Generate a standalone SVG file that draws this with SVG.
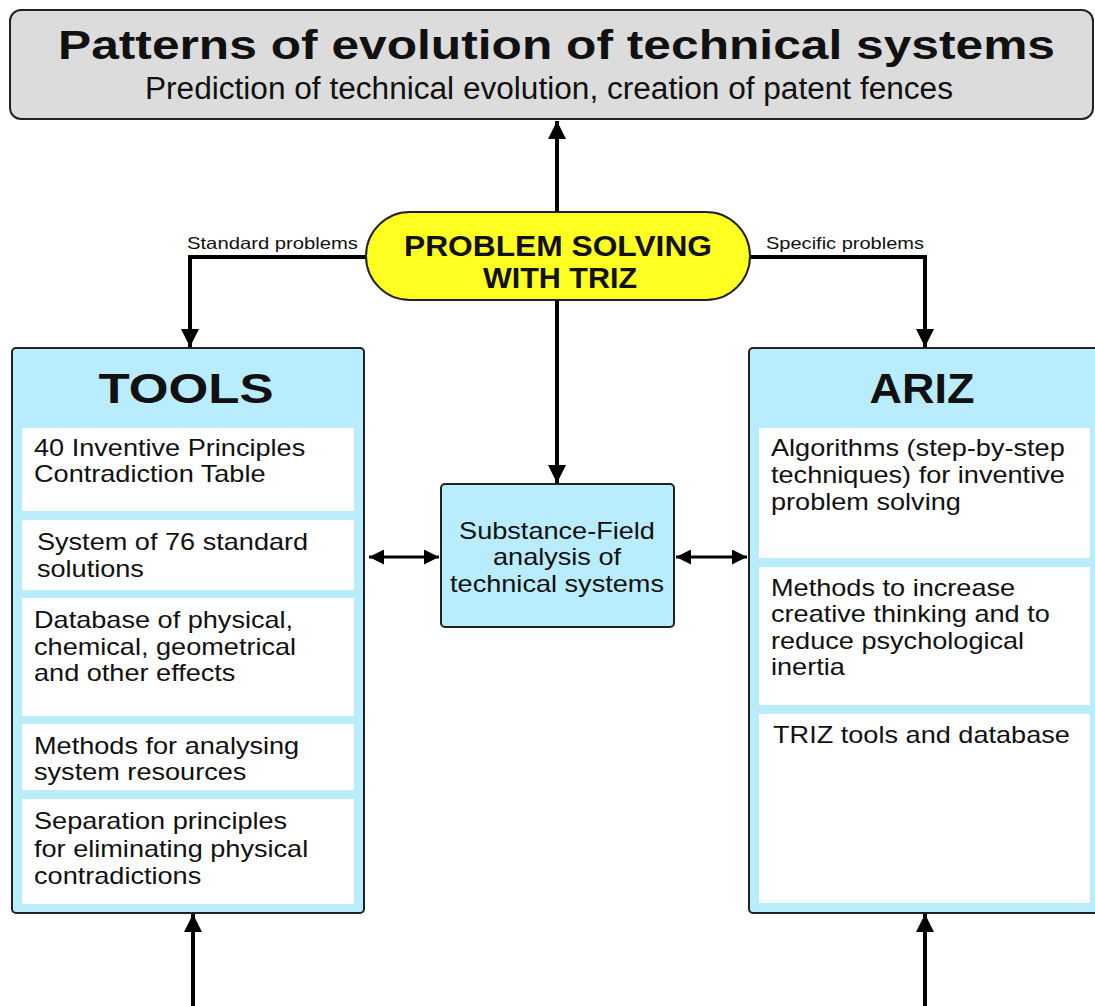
<svg xmlns="http://www.w3.org/2000/svg" width="1095" height="1006" viewBox="0 0 1095 1006">
  <defs>
    <style>
      text { font-family: "Liberation Sans", Arial, sans-serif; fill: #111; }
      .title { font-size: 40px; font-weight: bold; }
      .sub { font-size: 31px; }
      .pill { font-size: 29px; font-weight: bold; }
      .head { font-size: 42px; font-weight: bold; }
      .item { font-size: 24px; }
      .lbl { font-size: 16.5px; }
      .panel { fill: #b9ecfc; stroke: #222; stroke-width: 2; }
      .cell { fill: #ffffff; }
      .wire { fill: none; stroke: #000; stroke-width: 4; }
      .thin { fill: none; stroke: #000; stroke-width: 3; }
    </style>
    <marker id="head" viewBox="0 0 10 10" refX="10" refY="5" markerWidth="4.5" markerHeight="4.5" orient="auto" markerUnits="strokeWidth">
      <path d="M0,0 L10,5 L0,10 z" fill="#000"/>
    </marker>
    <marker id="headS" viewBox="0 0 10 10" refX="10" refY="5" markerWidth="6" markerHeight="5" orient="auto-start-reverse" markerUnits="strokeWidth">
      <path d="M0,0 L10,5 L0,10 z" fill="#000"/>
    </marker>
  </defs>

  <!-- connectors -->
  <g id="connectors">
    <line class="wire" x1="557" y1="212" x2="557" y2="121" marker-end="url(#head)"/>
    <polyline class="wire" points="367,257 190,257 190,347" marker-end="url(#head)"/>
    <polyline class="wire" points="749,257 925,257 925,347" marker-end="url(#head)"/>
    <line class="wire" x1="557" y1="300" x2="557" y2="483" marker-end="url(#head)"/>
    <line class="thin" x1="369" y1="557" x2="439" y2="557" marker-start="url(#headS)" marker-end="url(#headS)"/>
    <line class="thin" x1="676" y1="557" x2="747" y2="557" marker-start="url(#headS)" marker-end="url(#headS)"/>
    <line class="wire" x1="193" y1="1006" x2="193" y2="914" marker-end="url(#head)"/>
    <line class="wire" x1="925" y1="1006" x2="925" y2="914" marker-end="url(#head)"/>
    <text class="lbl" x="187" y="249" textLength="171" lengthAdjust="spacingAndGlyphs">Standard problems</text>
    <text class="lbl" x="766" y="249" textLength="158" lengthAdjust="spacingAndGlyphs">Specific problems</text>
  </g>

  <!-- header: patterns of evolution -->
  <g id="patterns">
    <rect x="10" y="10" width="1083" height="109" rx="11" fill="#dcdcdc" stroke="#222" stroke-width="2"/>
    <text class="title" x="556.5" y="59" text-anchor="middle" textLength="997" lengthAdjust="spacingAndGlyphs">Patterns of evolution of technical systems</text>
    <text class="sub" x="549" y="99" text-anchor="middle" textLength="808" lengthAdjust="spacingAndGlyphs">Prediction of technical evolution, creation of patent fences</text>
  </g>

  <!-- central problem-solving pill -->
  <g id="problem-solving">
    <rect x="366" y="212" width="384" height="88" rx="44" fill="#ffff22" stroke="#222" stroke-width="2"/>
    <text class="pill" x="558" y="256" text-anchor="middle" textLength="308" lengthAdjust="spacingAndGlyphs">PROBLEM SOLVING</text>
    <text class="pill" x="560" y="288" text-anchor="middle" textLength="154" lengthAdjust="spacingAndGlyphs">WITH TRIZ</text>
  </g>

  <!-- tools panel -->
  <g id="tools">
    <rect class="panel" x="12" y="348" width="352" height="565" rx="4"/>
    <text class="head" x="186" y="403" text-anchor="middle" textLength="175" lengthAdjust="spacingAndGlyphs">TOOLS</text>
    <rect class="cell" x="22" y="428" width="332" height="83"/>
    <rect class="cell" x="22" y="520" width="332" height="70"/>
    <rect class="cell" x="22" y="598" width="332" height="118"/>
    <rect class="cell" x="22" y="724" width="332" height="66"/>
    <rect class="cell" x="22" y="799" width="332" height="105"/>
    <g class="item" transform="translate(34 0) scale(1.13 1)">
      <text x="0" y="456">40 Inventive Principles</text>
      <text x="0" y="482">Contradiction Table</text>
      <text x="2.6" y="550">System of 76 standard</text>
      <text x="2.6" y="577">solutions</text>
      <text x="0" y="628">Database of physical,</text>
      <text x="0" y="655">chemical, geometrical</text>
      <text x="0" y="681">and other effects</text>
      <text x="0" y="754">Methods for analysing</text>
      <text x="0" y="780">system resources</text>
      <text x="0" y="829">Separation principles</text>
      <text x="0" y="857">for eliminating physical</text>
      <text x="0" y="884">contradictions</text>
    </g>
  </g>

  <!-- substance-field analysis -->
  <g id="substance-field">
    <rect class="panel" x="441" y="484" width="233" height="143" rx="4"/>
    <g class="item" transform="translate(557 0) scale(1.13 1)">
      <text x="0" y="539" text-anchor="middle">Substance-Field</text>
      <text x="0" y="565" text-anchor="middle">analysis of</text>
      <text x="0" y="592" text-anchor="middle">technical systems</text>
    </g>
  </g>

  <!-- ARIZ panel -->
  <g id="ariz">
    <rect class="panel" x="749" y="348" width="360" height="565" rx="4"/>
    <text class="head" x="922" y="403" text-anchor="middle" textLength="105" lengthAdjust="spacingAndGlyphs">ARIZ</text>
    <rect class="cell" x="759" y="428" width="331" height="130"/>
    <rect class="cell" x="759" y="567" width="331" height="138"/>
    <rect class="cell" x="759" y="714" width="331" height="189"/>
    <g class="item" transform="translate(771 0) scale(1.13 1)">
      <text x="0" y="456">Algorithms (step-by-step</text>
      <text x="0" y="483">techniques) for inventive</text>
      <text x="0" y="510">problem solving</text>
      <text x="0" y="596">Methods to increase</text>
      <text x="0" y="622">creative thinking and to</text>
      <text x="0" y="649">reduce psychological</text>
      <text x="0" y="675">inertia</text>
      <text x="1.8" y="743">TRIZ tools and database</text>
    </g>
  </g>
</svg>
